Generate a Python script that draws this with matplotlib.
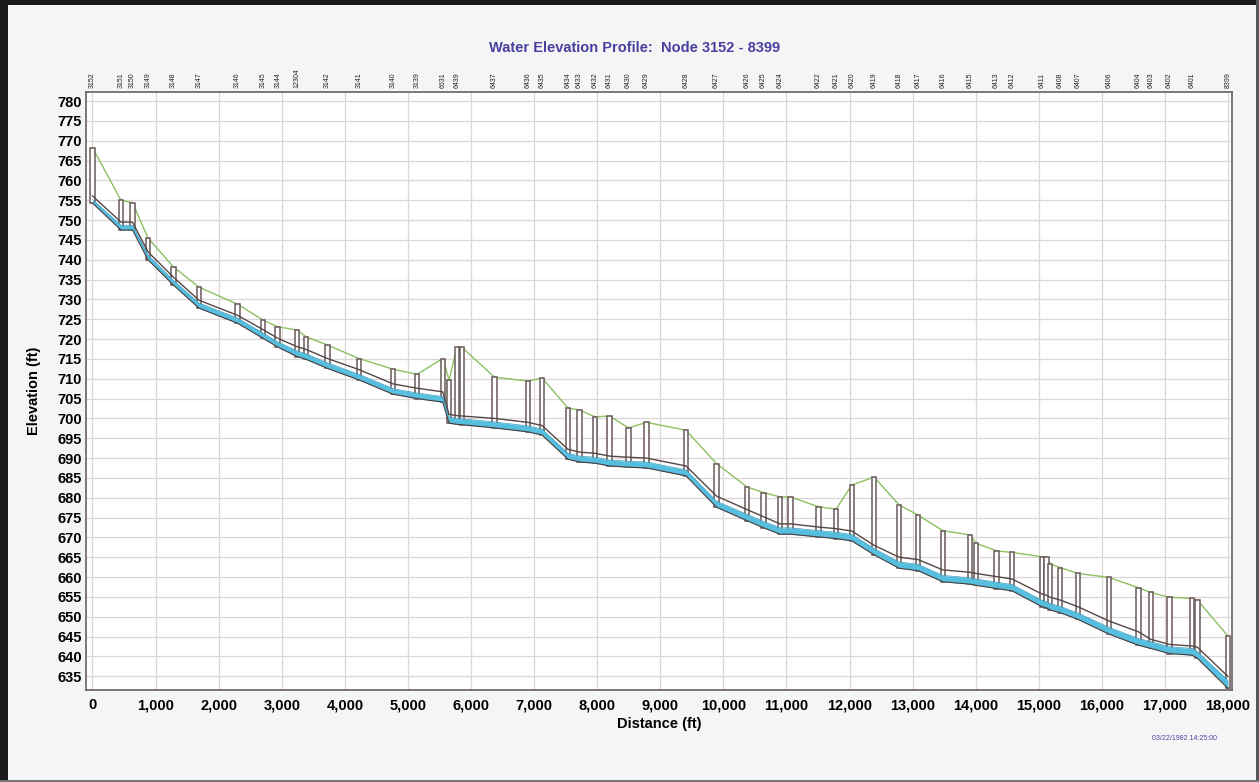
import matplotlib
matplotlib.use("Agg")
import matplotlib.pyplot as plt
import matplotlib.transforms as mtransforms
from matplotlib.patches import Rectangle

plt.rcParams['font.family'] = ['Liberation Sans', 'DejaVu Sans']

# node ids shown on top ('' where the label is hidden by its neighbour)
node_ids = ['3152', '3151', '3150', '3149', '3148', '3147', '3146', '3145', '3144', '12304',
            '', '3142', '3141', '3140', '3139', '6631', '', '6439', '', '6437',
            '6436', '6435', '6434', '6433', '6432', '6431', '6430', '6429', '6428', '6427',
            '6426', '6425', '6424', '', '6422', '6421', '6420', '6419', '6418', '6417',
            '6416', '6415', '', '6413', '6412', '6411', '', '', '6408', '6407',
            '6406', '6404', '6403', '6402', '6401', '', '8399']

# distance along the profile (ft)
distance = [0, 452, 634, 880, 1284, 1688, 2299, 2703, 2936, 3242,
            3385, 3725, 4225, 4764, 5144, 5552, 5652, 5778, 5858, 6373,
            6904, 7126, 7538, 7720, 7966, 8196, 8497, 8782, 9409, 9892,
            10376, 10637, 10899, 11065, 11509, 11787, 12036, 12389, 12786, 13087,
            13478, 13911, 14006, 14331, 14577, 15052, 15124, 15179, 15338, 15623,
            16114, 16579, 16776, 17070, 17430, 17514, 18000]

# ground / rim elevation (ft)
rim = [768.3, 755.0, 754.4, 745.5, 738.2, 733.1, 728.8, 724.8, 723.1, 722.3,
       720.6, 718.5, 715.1, 712.4, 711.1, 715.1, 709.7, 717.9, 717.9, 710.4,
       709.4, 710.2, 702.6, 702.1, 700.4, 700.6, 697.6, 699.0, 697.0, 688.6,
       682.7, 681.3, 680.2, 680.2, 677.7, 677.1, 683.2, 685.2, 678.2, 675.6,
       671.7, 670.6, 668.5, 666.6, 666.2, 665.1, 665.1, 663.3, 662.4, 660.9,
       659.9, 657.3, 656.1, 654.9, 654.6, 654.2, 645.1]

# invert elevation (ft)
invert = [754.3, 747.5, 747.5, 740.0, 733.6, 727.8, 724.0, 720.2, 718.0, 715.6,
          714.9, 712.6, 709.7, 706.1, 705.0, 704.1, 698.8, 698.5, 698.4, 697.6,
          696.6, 695.8, 689.7, 689.0, 688.7, 688.0, 687.7, 687.5, 685.5, 677.6,
          674.2, 672.4, 670.8, 670.8, 670.1, 669.7, 669.1, 665.6, 662.2, 661.6,
          658.8, 658.2, 657.9, 657.1, 656.5, 652.5, 652.2, 651.7, 651.0, 649.3,
          645.6, 642.8, 642.0, 640.7, 640.3, 639.5, 631.9]

# pipe height above invert (ft)
pipe_height = [1.8, 2.0, 2.0, 2.0, 2.0, 2.0, 2.0, 2.2, 2.2, 2.5,
               2.5, 2.5, 2.6, 2.6, 2.6, 2.6, 2.2, 2.2, 2.2, 2.4,
               2.4, 2.4, 2.5, 2.5, 2.5, 2.5, 2.5, 2.5, 2.5, 2.8,
               2.8, 2.8, 2.6, 2.6, 2.5, 2.5, 2.5, 2.4, 2.8, 2.8,
               3.0, 3.0, 3.0, 3.0, 3.0, 3.2, 3.2, 3.2, 3.2, 3.2,
               3.3, 3.4, 2.3, 2.3, 2.3, 2.8, 3.0]

# water depth above invert (ft)
water_depth = [0.9, 1.2, 1.2, 1.2, 1.2, 1.3, 1.3, 1.3, 1.3, 1.4,
               1.4, 1.4, 1.4, 1.4, 1.4, 1.4, 1.5, 1.5, 1.5, 1.5,
               1.5, 1.5, 1.5, 1.5, 1.5, 1.5, 1.5, 1.5, 1.5, 1.5,
               1.6, 1.6, 1.6, 1.6, 1.6, 1.6, 1.6, 1.6, 1.6, 1.6,
               1.6, 1.6, 1.6, 1.6, 1.6, 1.6, 1.6, 1.6, 1.6, 1.6,
               1.7, 1.7, 1.7, 1.7, 1.7, 1.7, 2.0]

x_ticks = list(range(0, 18001, 1000))
y_ticks = list(range(635, 781, 5))

crown = [i + h for i, h in zip(invert, pipe_height)]
water = [i + w for i, w in zip(invert, water_depth)]

fig = plt.figure(figsize=(12.59, 7.82), dpi=100, facecolor='#f4f5f5')
ax = fig.add_axes([0.0683, 0.1176, 0.9103, 0.7647])
ax.set_facecolor('white')

ax.set_xlim(-103, 18064)
ax.set_ylim(631.5, 782.3)
ax.set_xticks(x_ticks)
ax.set_xticklabels([f'{v:,}' for v in x_ticks])
ax.set_yticks(y_ticks)
ax.tick_params(length=0, labelsize=10.5)
ax.tick_params(axis='x', pad=6)
ax.tick_params(axis='y', pad=3)
for lab in ax.get_xticklabels() + ax.get_yticklabels():
    lab.set_fontweight('bold')
ax.grid(True, color='#dcd6d6', lw=0.9)
ax.set_axisbelow(True)
for s in ax.spines.values():
    s.set_color('#6a6060')
    s.set_linewidth(1.2)

ax.set_xlabel('Distance (ft)', fontsize=10.5, fontweight='bold', labelpad=3)
ax.set_ylabel('Elevation (ft)', fontsize=10.5, fontweight='bold', labelpad=12)

# ground line
ax.plot(distance, rim, color='#8cc060', lw=1.0, zorder=2)

# manholes
mh_w = 70
for d, r, inv in zip(distance, rim, invert):
    ax.add_patch(Rectangle((d - mh_w / 2, inv), mh_w, r - inv, facecolor='white',
                           edgecolor='#6a5858', lw=1.1, zorder=2.5))

# water, pipe crown and invert
ax.fill_between(distance, invert, water, color='#56bfe0', lw=0, zorder=3)
ax.plot(distance, water, color='#3a9cc0', lw=0.5, zorder=3)
ax.plot(distance, crown, color='#564646', lw=1.0, zorder=3)
ax.plot(distance, invert, color='#4a3e3e', lw=0.8, zorder=3.2)

# node labels on top
trans = mtransforms.blended_transform_factory(ax.transData, ax.transAxes)
for d, nid in zip(distance, node_ids):
    if nid:
        ax.text(d, 1.006, nid, transform=trans, rotation=90, fontsize=5,
                ha='center', va='bottom', color='#222222')

fig.text(0.504, 0.9386, 'Water Elevation Profile:  Node 3152 - 8399', ha='center',
         va='center', fontsize=10.5, fontweight='bold', color='#4a3fa0')
fig.text(0.941, 0.056, '03/22/1982 14:25:00', ha='center', va='center',
         fontsize=5, color='#5040a0')

# outer frame
fig.add_artist(Rectangle((0, 0), 8 / 1259, 1, transform=fig.transFigure,
                         color='#1a1a1a', lw=0))
fig.add_artist(Rectangle((0, 1 - 5 / 782), 1, 5 / 782, transform=fig.transFigure,
                         color='#1a1a1a', lw=0))
fig.add_artist(Rectangle((1 - 3 / 1259, 0), 3 / 1259, 1, transform=fig.transFigure,
                         color='#555555', lw=0))
fig.add_artist(Rectangle((0, 0), 1, 2 / 782, transform=fig.transFigure,
                         color='#777777', lw=0))

fig.savefig('out.png', dpi=100, facecolor=fig.get_facecolor())
